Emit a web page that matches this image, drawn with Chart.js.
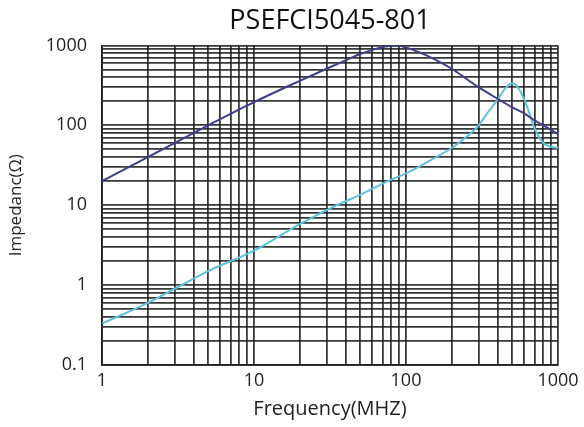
<!DOCTYPE html>
<html>
<head>
<meta charset="utf-8">
<title>PSEFCI5045-801</title>
<script src="https://cdn.jsdelivr.net/npm/chart.js@4.4.1/dist/chart.umd.min.js"></script>
<style>
  html,body{margin:0;padding:0;background:#fff;}
  #wrap{width:584px;height:427px;}
</style>
</head>
<body>
<div id="wrap"><canvas id="chartImpedance"></canvas></div>
<script>
/* ==========================================
   DATA
========================================== */
const chartTitle = "PSEFCI5045-801";
const xTitle = "Frequency(MHZ)";
const yTitle = "Impedanc(\u03A9)";

const xTickLabels = ["1","10","100","1000"];
const yTickLabels = ["0.1","1","10","100","1000"];
const gridSteps = [1,2,3,4,5,6,7,8,9];

// dark blue curve
const freqNavy = [1,2,3,5,10,20,30,40,50,60,70,80,90,100,120,150,200,300,400,500,600,700,800,1000];
const zNavy    = [20,40,60,100,195,360,510,650,780,880,950,990,990,940,830,690,510,300,215,168,141,115,100,78];

// light blue curve
const freqCyan = [1,2,3,5,10,20,35,50,78,100,150,200,250,293,350,400,450,500,550,600,650,700,800,900,1000];
const zCyan    = [0.33,0.6,0.9,1.5,2.7,5.8,10,13.5,20.5,25,38,52,72,94,150,210,290,335,290,210,140,92,60,54,52];

const colorNavy = "#3d3f8c";
const colorCyan = "#5cc3dc";
const gridColor = "rgba(30,30,30,0.88)";

/* ==========================================
   HELPERS
========================================== */
function logGrid(labels){

  const values = [];
  const decades = labels.map(Number);

  decades.forEach((d,i)=>{

    if(i === decades.length-1){
      values.push(d);
      return;
    }

    gridSteps.forEach(s=>{
      values.push(d*s);
    });

  });

  return values;

}

function toPoints(xs,ys){

  return xs.map((x,i)=>({x:x,y:ys[i]}));

}

/* ==========================================
   IMPEDANCE CHART
========================================== */
function renderImpedanceChart(){

  const xGrid = logGrid(xTickLabels);
  const yGrid = logGrid(yTickLabels);

  new Chart(
    document.getElementById("chartImpedance"),
    {
      type:"line",
      data:{
        datasets:[
          {
            label:"Z1",
            data:toPoints(freqNavy,zNavy),
            borderColor:colorNavy,
            borderWidth:2,
            pointRadius:0,
            cubicInterpolationMode:"monotone"
          },
          {
            label:"Z2",
            data:toPoints(freqCyan,zCyan),
            borderColor:colorCyan,
            borderWidth:2,
            pointRadius:0,
            cubicInterpolationMode:"monotone"
          }
        ]
      },
      options:{
        responsive:true,
        maintainAspectRatio:false,
        animation:false,
        layout:{
          padding:{left:0,right:26,top:0,bottom:0}
        },
        plugins:{
          legend:{display:false},
          tooltip:{enabled:false},
          title:{
            display:true,
            text:chartTitle,
            fullSize:false,
            color:"#111",
            font:{family:"Open Sans",size:27,weight:"normal"},
            padding:{top:5,bottom:8}
          }
        },
        scales:{
          x:{
            type:"logarithmic",
            min:1,
            max:1000,
            afterBuildTicks:axis=>{
              axis.ticks = xGrid.map(v=>({value:v}));
            },
            afterFit:axis=>{
              axis.height = 62;
            },
            ticks:{
              autoSkip:false,
              maxRotation:0,
              padding:5,
              color:"#222",
              font:{family:"Open Sans",size:18},
              callback:v=>xTickLabels.includes(String(v)) ? String(v) : ""
            },
            grid:{
              color:gridColor,
              lineWidth:1.8,
              drawTicks:false
            },
            border:{color:gridColor,width:1.8},
            title:{
              display:true,
              text:xTitle,
              color:"#222",
              font:{family:"Open Sans",size:20},
              padding:{top:0,bottom:6}
            }
          },
          y:{
            type:"logarithmic",
            min:0.1,
            max:1000,
            afterBuildTicks:axis=>{
              axis.ticks = yGrid.map(v=>({value:v}));
            },
            afterFit:axis=>{
              axis.width = 102;
            },
            ticks:{
              autoSkip:false,
              padding:15,
              color:"#222",
              font:{family:"Open Sans",size:18},
              callback:v=>yTickLabels.includes(String(v)) ? String(v) : ""
            },
            grid:{
              color:gridColor,
              lineWidth:1.8,
              drawTicks:false
            },
            border:{color:gridColor,width:1.8},
            title:{
              display:true,
              text:yTitle,
              color:"#222",
              font:{family:"Open Sans",size:17},
              padding:{top:6,bottom:0}
            }
          }
        }
      }
    }
  );

}

renderImpedanceChart();
</script>
</body>
</html>
